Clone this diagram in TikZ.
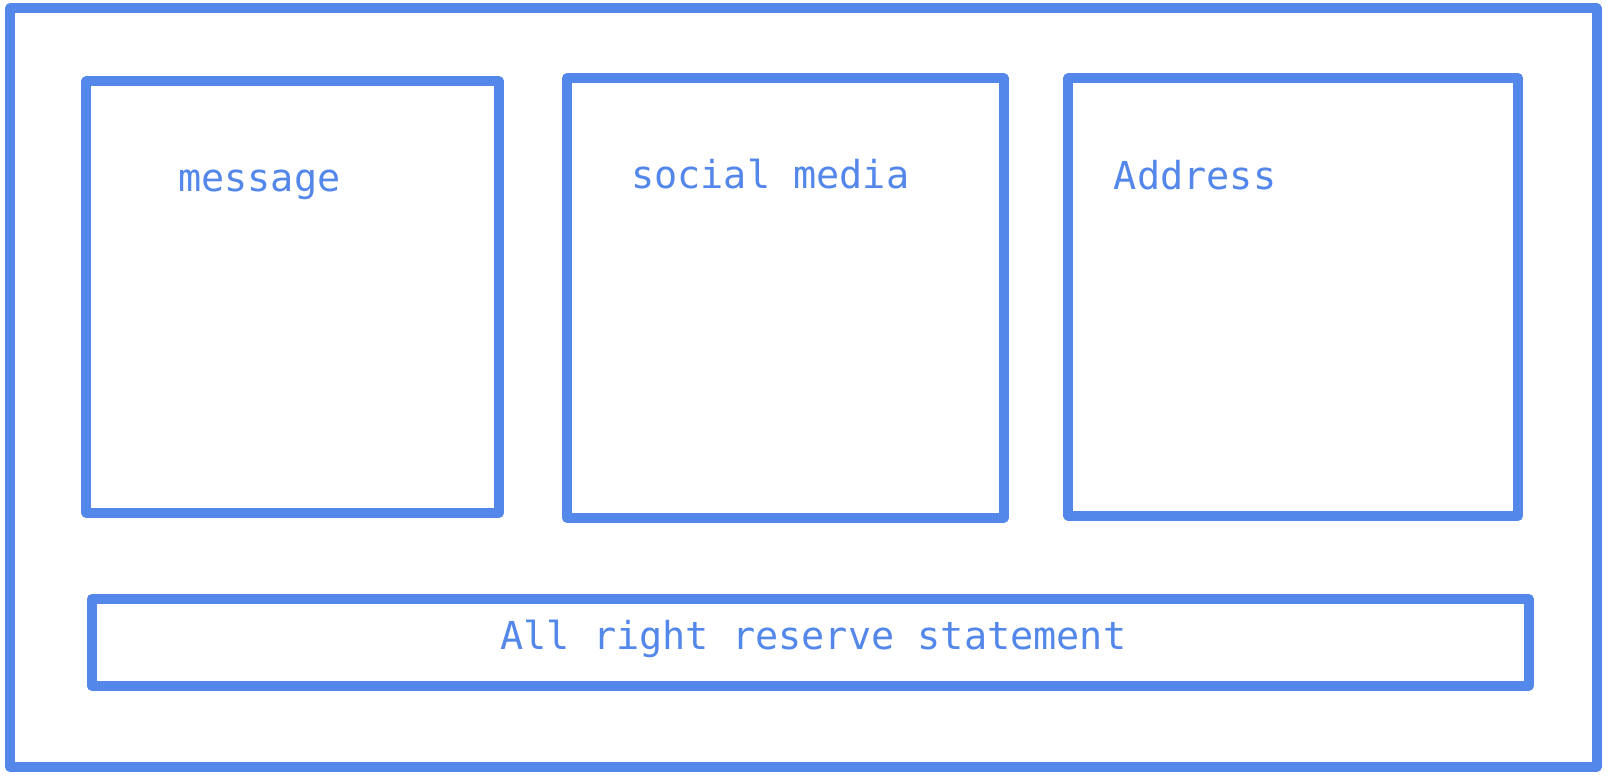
\documentclass[tikz,border=0pt]{standalone}
\usepackage{fontspec}
\setmonofont{DejaVu Sans Mono}
\usetikzlibrary{fit}
\definecolor{wireblue}{RGB}{84,135,234}
\tikzset{
  box/.style={draw=wireblue, line width=10pt, line join=round, inner sep=0pt, rectangle},
  label/.style={text=wireblue, font=\ttfamily\fontsize{38.5pt}{42pt}\selectfont, inner sep=0pt, anchor=base west}
}
\begin{document}
\begin{tikzpicture}[x=1.02934pt,y=-1.02934pt]
\useasboundingbox (0,0) rectangle (1568,759.7);
\coordinate (o1) at (10,8);   \coordinate (o2) at (1551,745);
\coordinate (m1) at (84,79);  \coordinate (m2) at (485,498);
\coordinate (s1) at (551,76); \coordinate (s2) at (975,503);
\coordinate (a1) at (1038,76);\coordinate (a2) at (1475,501);
\coordinate (f1) at (89,582); \coordinate (f2) at (1485,666);
\node[box, fit=(o1)(o2)] (outer) {};
\node[box, fit=(m1)(m2)] (message) {};
\node[box, fit=(s1)(s2)] (social) {};
\node[box, fit=(a1)(a2)] (address) {};
\node[box, fit=(f1)(f2)] (footer) {};
\node[label] (tmsg) at (173,186) {message};
\node[label] (tsoc) at (613,183) {social media};
\node[label] (tadd) at (1082,184) {Address};
\node[label] (tfoot) at (486,631) {All right reserve statement};
\end{tikzpicture}
\end{document}
